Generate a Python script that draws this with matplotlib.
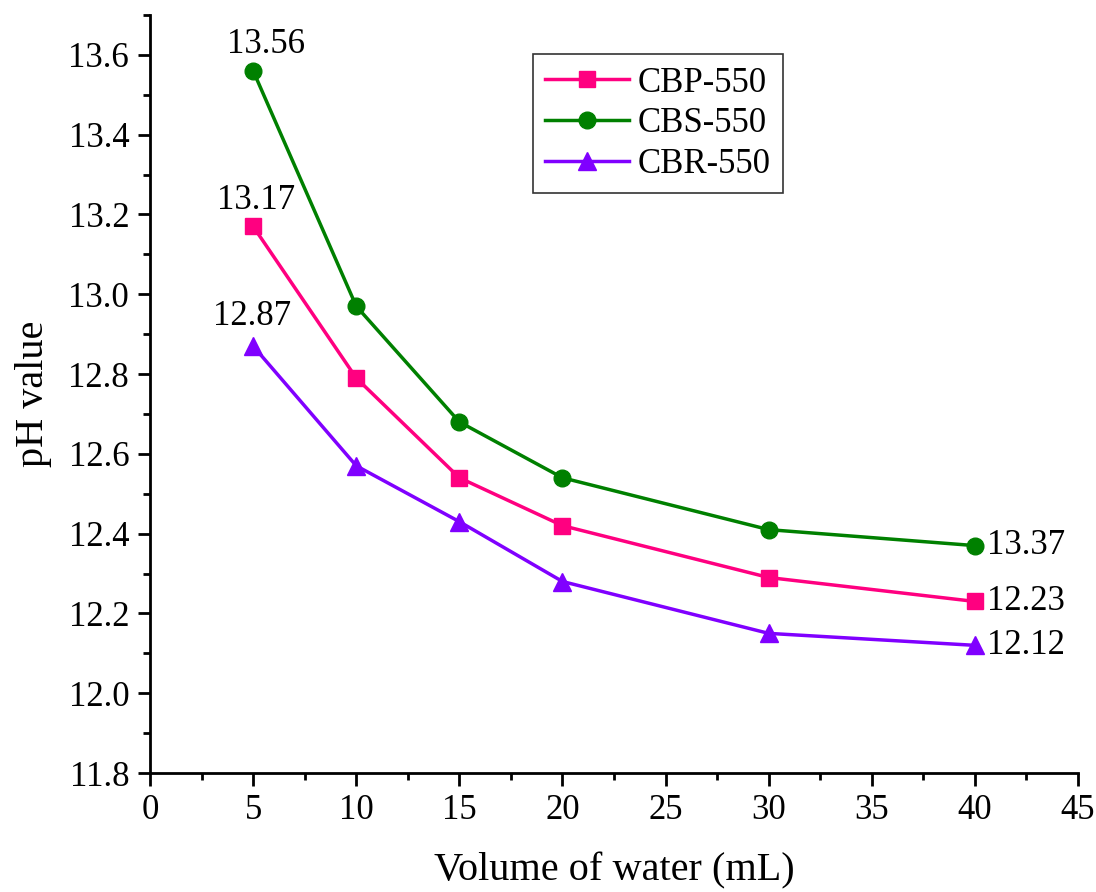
#!/usr/bin/python3
# pH of biochar leachate versus volume of water
from matplotlib import pyplot as plt
from matplotlib.ticker import MultipleLocator

# Volume of water (mL)
volume = [5, 10, 15, 20, 30, 40]

# pH value of each sample
cbp_550 = [13.17, 12.79, 12.54, 12.42, 12.29, 12.23]
cbs_550 = [13.56, 12.97, 12.68, 12.54, 12.41, 12.37]
cbr_550 = [12.87, 12.57, 12.43, 12.28, 12.15, 12.12]

# text shown next to the first and last points
first_labels = ["13.17", "13.56", "12.87"]
last_labels = ["12.23", "13.37", "12.12"]


def main():
    plt.rcParams['font.family'] = ['Liberation Serif', 'DejaVu Serif']

    fig = plt.figure(figsize=(10.96, 8.92), dpi=100)
    ax = fig.add_axes([0.1369, 0.1334, 0.8467, 0.8498])

    # name, values, colour, marker, marker size, offset of first label (pt)
    series = [
        ("CBP-550", cbp_550, "#ff0080", "s", 11, (2, 19)),
        ("CBS-550", cbs_550, "#008000", "o", 12, (9, 19)),
        ("CBR-550", cbr_550, "#8000ff", "^", 13, (-1, 21)),
    ]
    for i, (name, vals, col, mk, ms, off) in enumerate(series):
        ax.plot(volume, vals, color=col, marker=mk, markersize=ms,
                linewidth=2.5, label=name, clip_on=False)
        ax.annotate(first_labels[i], (volume[0], vals[0]),
                    xytext=off, textcoords='offset points',
                    ha='center', va='center', fontsize=25)
        ax.annotate(last_labels[i], (volume[-1], vals[-1]),
                    xytext=(9, 0), textcoords='offset points',
                    ha='left', va='center', fontsize=25)

    ax.set_xlim(0, 45)
    ax.set_ylim(11.8, 13.7)
    ax.xaxis.set_major_locator(MultipleLocator(5))
    ax.xaxis.set_minor_locator(MultipleLocator(2.5))
    ax.yaxis.set_major_locator(MultipleLocator(0.2))
    ax.yaxis.set_minor_locator(MultipleLocator(0.1))
    ax.yaxis.set_major_formatter(lambda v, p: f"{v:.1f}")

    for side in ('top', 'right'):
        ax.spines[side].set_visible(False)
    for side in ('left', 'bottom'):
        ax.spines[side].set_linewidth(2)

    ax.tick_params(which='major', direction='out', length=9, width=2,
                   labelsize=25, pad=6)
    ax.tick_params(which='minor', direction='out', length=5, width=2)

    ax.set_xlabel("Volume of water (mL)", fontsize=29, labelpad=18)
    ax.set_ylabel("pH value", fontsize=29, labelpad=12)

    leg = ax.legend(loc='upper left', bbox_to_anchor=(0.413, 0.948),
                    fontsize=25, frameon=True, fancybox=False,
                    handlelength=2.4, handletextpad=0.25, labelspacing=0.22,
                    borderpad=0.35, borderaxespad=0)
    leg.get_frame().set_edgecolor('black')
    leg.get_frame().set_linewidth(1.2)

    fig.savefig("out.png", dpi=100)


if __name__ == '__main__':
    main()
